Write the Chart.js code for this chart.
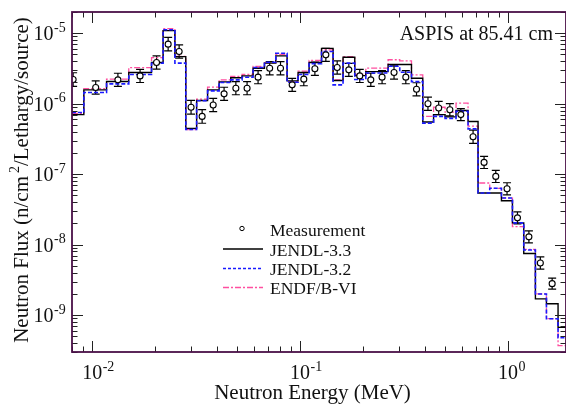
<!DOCTYPE html>
<html>
<head>
<meta charset="utf-8">
<script src="https://cdn.jsdelivr.net/npm/chart.js@4.4.1/dist/chart.umd.min.js"></script>
<style>
  html, body { margin: 0; padding: 0; background: #fff; }
  canvas { display: block; }
</style>
</head>
<body>
<canvas id="fluxChart" width="566" height="405"></canvas>
<script>
// group boundaries of the calculated spectra (MeV)
const binEdges = [0.0070, 0.00912, 0.01173, 0.0150, 0.0193, 0.02194, 0.0250, 0.0282, 0.0318, 0.0359,
  0.0408, 0.0464, 0.0526, 0.0594, 0.0674, 0.0764, 0.0866, 0.0978, 0.1105, 0.1268,
  0.1441, 0.1609, 0.1832, 0.2070, 0.2338, 0.2650, 0.3015, 0.3433, 0.3890, 0.4384,
  0.4980, 0.5623, 0.6423, 0.7175, 0.8166, 0.9296, 1.050, 1.190, 1.354, 1.530, 1.740, 2.00];

// group fluxes, one value per group
const jendl33 = [7.0e-7, 1.57e-6, 2.07e-6, 2.77e-6, 3.84e-6, 1.09e-5, 4.66e-6, 4.46e-7, 1.11e-6, 1.57e-6,
  2.04e-6, 2.33e-6, 2.48e-6, 3.19e-6, 3.76e-6, 4.77e-6, 2.11e-6, 2.77e-6, 3.84e-6, 6.1e-6,
  2.13e-6, 4.57e-6, 2.5e-6, 2.85e-6, 2.85e-6, 3.6e-6, 3.6e-6, 2.3e-6, 5.5e-7, 7.0e-7,
  6.5e-7, 8.0e-7, 5.6e-7, 5.4e-8, 5.4e-8, 4.2e-8, 2.04e-8, 7.5e-9, 1.7e-9, 1.45e-9, 6.7e-10];
const jendl32 = [7.5e-7, 1.44e-6, 1.91e-6, 2.6e-6, 3.75e-6, 1.12e-5, 3.76e-6, 4.3e-7, 1.1e-6, 1.52e-6,
  2.0e-6, 2.18e-6, 2.37e-6, 3.26e-6, 3.88e-6, 5.2e-6, 2.02e-6, 2.6e-6, 3.7e-6, 5.5e-6,
  1.85e-6, 3.76e-6, 2.2e-6, 2.73e-6, 2.73e-6, 3.4e-6, 2.8e-6, 2.06e-6, 5.3e-7, 6.6e-7,
  6.2e-7, 7.8e-7, 4.4e-7, 5.4e-8, 6.3e-8, 4.6e-8, 2.04e-8, 8.4e-9, 2.0e-9, 8.9e-10, 4.8e-10];
const endfb6 = [7.3e-7, 1.64e-6, 2.23e-6, 3.26e-6, 4.5e-6, 1.16e-5, 4.7e-6, 4.3e-7, 1.16e-6, 1.72e-6,
  2.18e-6, 2.43e-6, 2.6e-6, 3.37e-6, 3.8e-6, 5.0e-6, 2.06e-6, 2.9e-6, 4.1e-6, 5.8e-6,
  2.18e-6, 4.66e-6, 2.6e-6, 3.19e-6, 3.19e-6, 4.2e-6, 4.05e-6, 2.56e-6, 6.6e-7, 8.9e-7,
  7.6e-7, 1.02e-6, 4.8e-7, 7.5e-8, 6.3e-8, 4.6e-8, 1.8e-8, 8.6e-9, 2.0e-9, 8.9e-10, 3.7e-10];

// measured points: energy, flux, relative error
const measEnergy = [0.0081, 0.0104, 0.0133, 0.0170, 0.0204, 0.0232, 0.0262, 0.0299, 0.0338, 0.0382,
  0.0431, 0.0491, 0.0556, 0.0628, 0.0714, 0.0805, 0.0916, 0.1042, 0.1178, 0.133,
  0.1508, 0.1715, 0.1936, 0.2188, 0.2479, 0.283, 0.3224, 0.363, 0.412, 0.464,
  0.525, 0.593, 0.679, 0.767, 0.873, 0.989, 1.11, 1.26, 1.43, 1.63];
const measFlux = [2.2e-6, 1.7e-6, 2.18e-6, 2.48e-6, 3.84e-6, 7.0e-6, 5.5e-6, 8.9e-7, 6.6e-7, 9.6e-7,
  1.38e-6, 1.66e-6, 1.66e-6, 2.38e-6, 3.19e-6, 3.19e-6, 1.85e-6, 2.23e-6, 3.13e-6, 4.93e-6,
  3.26e-6, 3.02e-6, 2.48e-6, 2.18e-6, 2.38e-6, 2.77e-6, 2.38e-6, 1.6e-6, 1.0e-6, 8.7e-7,
  8.2e-7, 7.0e-7, 3.4e-7, 1.47e-7, 9.3e-8, 6.2e-8, 2.4e-8, 1.29e-8, 5.5e-9, 2.8e-9];
const measErr = [0.25, 0.24, 0.24, 0.24, 0.24, 0.25, 0.24, 0.25, 0.25, 0.24,
  0.24, 0.24, 0.24, 0.24, 0.24, 0.24, 0.24, 0.24, 0.24, 0.24,
  0.24, 0.24, 0.24, 0.24, 0.24, 0.24, 0.24, 0.24, 0.24, 0.24,
  0.22, 0.22, 0.24, 0.22, 0.22, 0.22, 0.22, 0.22, 0.22, 0.2];

// axis labels (powers of ten)
const xLabelExps = [-2, -1, 0];
const yLabelExps = [-9, -8, -7, -6, -5];

const SERIF = '"Liberation Serif", "DejaVu Serif", serif';
const FRAME = '#4a1048';
const BLUE = '#1a1aff';
const PINK = '#ff4fa0';

function steps(vals) {
  const pts = vals.map((v, i) => ({x: binEdges[i], y: v}));
  pts.push({x: binEdges[vals.length], y: vals[vals.length - 1]});
  return pts;
}

function logTicks(min, max) {
  const out = [];
  for (let d = Math.floor(Math.log10(min)); d <= Math.ceil(Math.log10(max)); d++) {
    for (let k = 1; k <= 9; k++) {
      const v = k * Math.pow(10, d);
      if (v >= min * 0.9999 && v <= max * 1.0001) out.push({v: v, major: k === 1});
    }
  }
  return out;
}

function powLabel(ctx, exp, x, y, align) {
  ctx.font = '20px ' + SERIF;
  const w10 = ctx.measureText('10').width;
  ctx.textAlign = 'left';
  ctx.textBaseline = 'alphabetic';
  const x0 = align === 'center' ? x - w10 / 2 : x - w10;
  ctx.fillText('10', x0, y);
  ctx.font = '14px ' + SERIF;
  ctx.fillText(String(exp), x0 + w10 + 0.5, y - 8.5);
}

const decor = {
  id: 'decor',
  beforeDatasetsDraw(chart) {
    const {ctx, chartArea: a, scales: {x, y}} = chart;
    ctx.save();
    ctx.beginPath();
    ctx.rect(a.left, a.top, a.right - a.left, a.bottom - a.top);
    ctx.clip();
    ctx.strokeStyle = '#000';
    ctx.lineWidth = 1.2;
    measEnergy.forEach((e, i) => {
      const px = x.getPixelForValue(e);
      const top = y.getPixelForValue(measFlux[i] * (1 + measErr[i]));
      const bot = y.getPixelForValue(measFlux[i] / (1 + measErr[i]));
      ctx.beginPath();
      ctx.moveTo(px, top); ctx.lineTo(px, bot);
      ctx.moveTo(px - 4, top); ctx.lineTo(px + 4, top);
      ctx.moveTo(px - 4, bot); ctx.lineTo(px + 4, bot);
      ctx.stroke();
    });
    ctx.restore();
  },
  afterDraw(chart) {
    const {ctx, chartArea: a, scales: {x, y}} = chart;
    ctx.save();
    // tick marks on all four sides, pointing inward
    ctx.strokeStyle = '#222';
    ctx.lineWidth = 1;
    ctx.beginPath();
    logTicks(x.min, x.max).forEach(t => {
      const px = Math.round(x.getPixelForValue(t.v)) + 0.5;
      const len = t.major ? 11 : 5.5;
      ctx.moveTo(px, a.bottom); ctx.lineTo(px, a.bottom - len);
      ctx.moveTo(px, a.top); ctx.lineTo(px, a.top + len);
    });
    logTicks(y.min, y.max).forEach(t => {
      const py = Math.round(y.getPixelForValue(t.v)) + 0.5;
      const len = t.major ? 11 : 5.5;
      ctx.moveTo(a.left, py); ctx.lineTo(a.left + len, py);
      ctx.moveTo(a.right, py); ctx.lineTo(a.right - len, py);
    });
    ctx.stroke();

    // frame
    ctx.strokeStyle = FRAME;
    ctx.lineWidth = 1.8;
    ctx.strokeRect(a.left, a.top, a.right - a.left, a.bottom - a.top);

    // tick labels
    ctx.fillStyle = '#111';
    xLabelExps.forEach(e => powLabel(ctx, e, x.getPixelForValue(Math.pow(10, e)), 379, 'center'));
    yLabelExps.forEach(e => powLabel(ctx, e, 53.5, y.getPixelForValue(Math.pow(10, e)) + 7.2, 'right'));

    // axis titles
    ctx.font = '21px ' + SERIF;
    ctx.textAlign = 'center';
    ctx.textBaseline = 'alphabetic';
    ctx.fillText('Neutron Energy (MeV)', 312.5, 399);

    ctx.save();
    ctx.translate(28, 180);
    ctx.rotate(-Math.PI / 2);
    const p1 = 'Neutron Flux (n/cm', p2 = '2', p3 = '/Lethargy/source)';
    ctx.font = '21px ' + SERIF;
    const w1 = ctx.measureText(p1).width, w3 = ctx.measureText(p3).width;
    ctx.font = '14px ' + SERIF;
    const w2 = ctx.measureText(p2).width + 3;
    let u = -(w1 + w2 + w3) / 2;
    ctx.textAlign = 'left';
    ctx.font = '21px ' + SERIF;
    ctx.fillText(p1, u, 0); u += w1 + 3;
    ctx.font = '14px ' + SERIF;
    ctx.fillText(p2, u, -9); u += w2 - 3;
    ctx.font = '21px ' + SERIF;
    ctx.fillText(p3, u, 0);
    ctx.restore();

    // annotation
    ctx.font = '20px ' + SERIF;
    ctx.textAlign = 'right';
    ctx.fillText('ASPIS at 85.41 cm', 553, 39.5);

    // legend
    const lx0 = 223, lx1 = 263, tx = 270;
    ctx.font = '17.5px ' + SERIF;
    ctx.textAlign = 'left';
    ctx.fillStyle = '#111';
    ctx.beginPath();
    ctx.arc(242, 228.5, 2.2, 0, Math.PI * 2);
    ctx.strokeStyle = '#000'; ctx.lineWidth = 1; ctx.stroke();
    ctx.fillText('Measurement', tx, 236);
    const rows = [
      {t: 'JENDL-3.3', y: 249, c: '#000', d: [], w: 1.4},
      {t: 'JENDL-3.2', y: 268.5, c: BLUE, d: [3, 2], w: 1.3},
      {t: 'ENDF/B-VI', y: 287.5, c: PINK, d: [6, 2, 2, 2], w: 1.3}
    ];
    rows.forEach(r => {
      ctx.beginPath();
      ctx.setLineDash(r.d);
      ctx.strokeStyle = r.c; ctx.lineWidth = r.w;
      ctx.moveTo(lx0, r.y); ctx.lineTo(lx1, r.y);
      ctx.stroke();
      ctx.setLineDash([]);
      ctx.fillText(r.t, tx, r.y + 6.5);
    });
    ctx.restore();
  }
};

const ctx1 = document.getElementById('fluxChart');

new Chart(ctx1, {
  type: 'line',
  data: {
    datasets: [
      {
        label: 'Measurement',
        data: measEnergy.map((e, i) => ({x: e, y: measFlux[i]})),
        showLine: false,
        pointRadius: 3,
        pointBackgroundColor: '#fff',
        pointBorderColor: '#000',
        pointBorderWidth: 1.1,
        order: 0
      },
      {
        label: 'JENDL-3.2',
        data: steps(jendl32),
        stepped: 'before',
        borderColor: BLUE,
        borderWidth: 1.6,
        borderDash: [4, 2],
        pointRadius: 0,
        order: 1
      },
      {
        label: 'JENDL-3.3',
        data: steps(jendl33),
        stepped: 'before',
        borderColor: '#000',
        borderWidth: 1.4,
        pointRadius: 0,
        order: 2
      },
      {
        label: 'ENDF/B-VI',
        data: steps(endfb6),
        stepped: 'before',
        borderColor: PINK,
        borderWidth: 1.3,
        borderDash: [6, 2, 2, 2],
        pointRadius: 0,
        order: 3
      }
    ]
  },
  options: {
    responsive: false,
    animation: false,
    devicePixelRatio: 1,
    layout: {autoPadding: false, padding: {top: 12, right: 0, left: 0, bottom: 0}},
    plugins: {
      legend: {display: false},
      tooltip: {enabled: false}
    },
    scales: {
      x: {
        type: 'logarithmic',
        min: 0.008,
        max: 1.9,
        ticks: {display: false},
        grid: {display: false},
        border: {display: false},
        afterFit: s => { s.height = 53; }
      },
      y: {
        type: 'logarithmic',
        min: 3e-10,
        max: 2e-5,
        ticks: {display: false},
        grid: {display: false},
        border: {display: false},
        afterFit: s => { s.width = 72; }
      }
    }
  },
  plugins: [decor]
});
</script>
</body>
</html>
